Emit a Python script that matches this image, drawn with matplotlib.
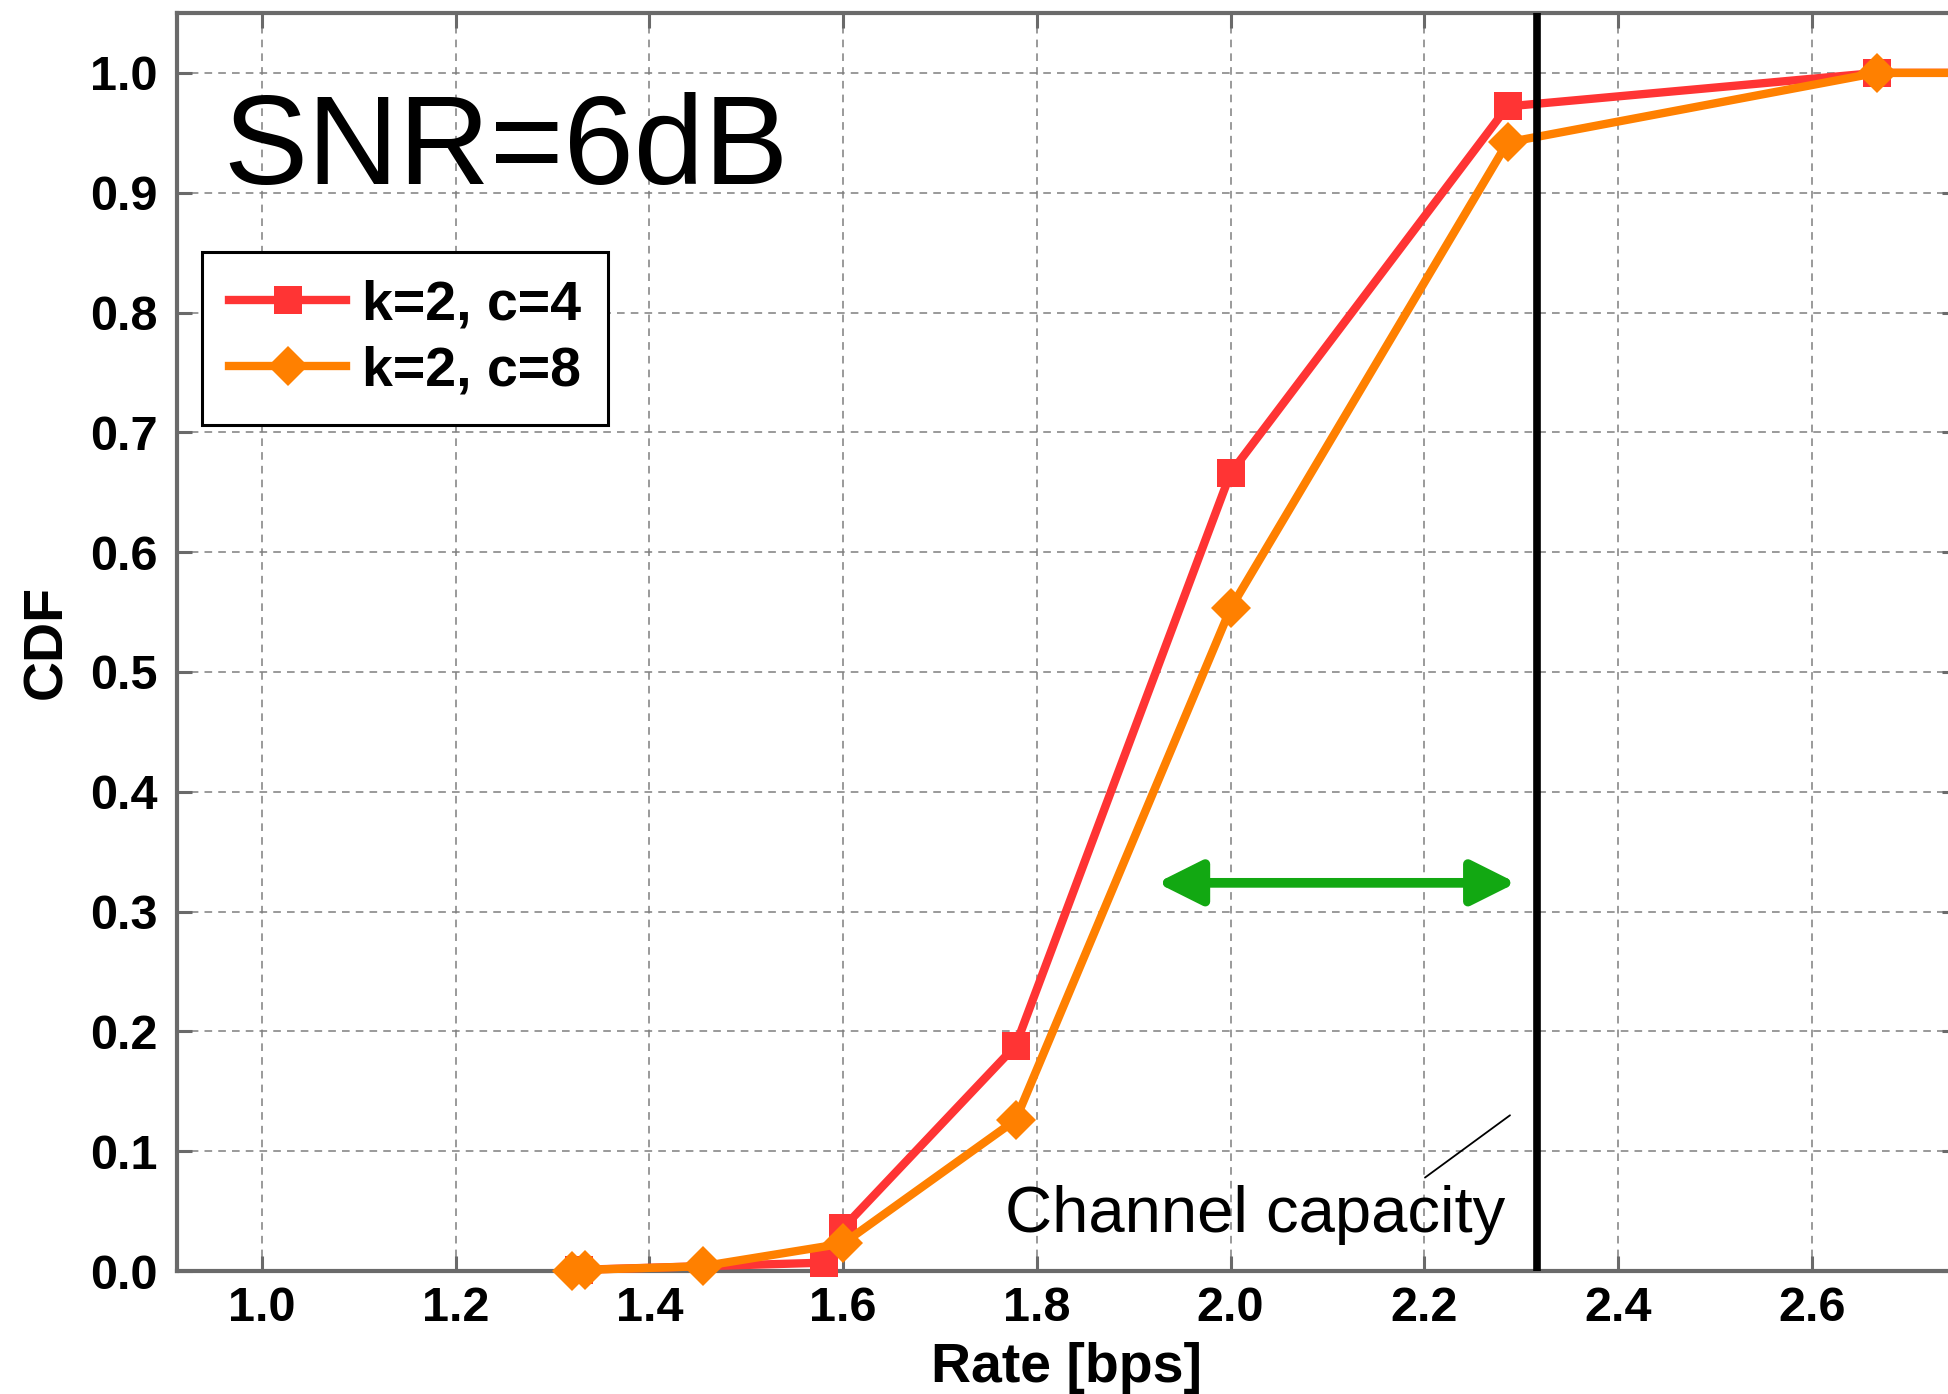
import numpy as np
import matplotlib
matplotlib.use("Agg")
import matplotlib.pyplot as plt

plt.rcParams["font.family"] = ["Liberation Sans", "DejaVu Sans"]
plt.rcParams["font.weight"] = "bold"

# data
rate_c4 = [1.327, 1.58, 1.6, 1.778, 2.0, 2.286, 2.667, 3.2]
cdf_c4 = [0.001, 0.007, 0.036, 0.188, 0.666, 0.972, 1.0, 1.0]

rate_c8 = [1.32, 1.333, 1.455, 1.6, 1.778, 2.0, 2.286, 2.667, 3.2]
cdf_c8 = [0.0, 0.001, 0.004, 0.023, 0.126, 0.553, 0.942, 1.0, 1.0]

capacity = np.log2(1 + 10 ** 0.6)  # SNR = 6 dB

x_ticks = [1.0, 1.2, 1.4, 1.6, 1.8, 2.0, 2.2, 2.4, 2.6]
y_ticks = [0.0, 0.1, 0.2, 0.3, 0.4, 0.5, 0.6, 0.7, 0.8, 0.9, 1.0]

red = "#ff3434"
orange = "#ff8000"
green = "#12a812"
gray = "#6a6a6a"

fig = plt.figure(figsize=(19.49, 13.94), dpi=100)
ax = fig.add_axes([0.0907, 0.0882, 0.9134, 0.9025])

ax.plot(rate_c4, cdf_c4, color=red, lw=6, marker="s", ms=20, mew=0,
        label="k=2, c=4", clip_on=False, zorder=3)
ax.plot(rate_c8, cdf_c8, color=orange, lw=6, marker="D", ms=20, mew=0,
        label="k=2, c=8", clip_on=False, zorder=4)

ax.axvline(capacity, color="black", lw=5.5, zorder=5)

# gap arrow
ax.annotate("", xy=(2.295, 0.324), xytext=(1.924, 0.324),
            arrowprops=dict(arrowstyle="<|-|>,head_length=2.7,head_width=1.35",
                            color=green, lw=7, shrinkA=0, shrinkB=0,
                            mutation_scale=10),
            zorder=6)

# capacity label
ax.annotate("", xy=(2.2885, 0.130), xytext=(2.2007, 0.078),
            arrowprops=dict(arrowstyle="-", color="black", lw=1.3,
                            shrinkA=0, shrinkB=0))
ax.text(1.7676, 0.0328, "Channel capacity", fontsize=47, fontweight="normal",
        ha="left", va="baseline")

ax.text(0.96, 0.907, "SNR=6dB", fontsize=91, fontweight="normal",
        ha="left", va="baseline")

ax.set_xlim(0.912, 2.75)
ax.set_ylim(0, 1.05)
ax.set_xticks(x_ticks)
ax.set_yticks(y_ticks)
ax.set_xticklabels([f"{t:.1f}" for t in x_ticks])
ax.set_yticklabels([f"{t:.1f}" for t in y_ticks])

ax.tick_params(direction="in", length=11, width=2.2, color=gray,
               top=True, right=True, labelsize=35, pad=14)
ax.tick_params(axis="x", pad=11)

for s in ax.spines.values():
    s.set_color(gray)
    s.set_linewidth(3)
    s.set_zorder(2.5)

ax.grid(True, linestyle=(0, (5, 4)), color="#7f7f7f", linewidth=1.1)
ax.set_axisbelow(True)

ax.set_xlabel("Rate [bps]", fontsize=40, fontweight="bold", labelpad=8)
ax.set_ylabel("CDF", fontsize=40, fontweight="bold", labelpad=12)

leg = ax.legend(loc="upper left", bbox_to_anchor=(0.014, 0.810),
                borderaxespad=0, fontsize=40, frameon=True, fancybox=False,
                handlelength=2.1, handletextpad=0.28, labelspacing=0.25,
                borderpad=0.5)
leg.get_frame().set_edgecolor("black")
leg.get_frame().set_linewidth(2.2)
leg.get_frame().set_alpha(1)

fig.savefig("out.png", dpi=100)
